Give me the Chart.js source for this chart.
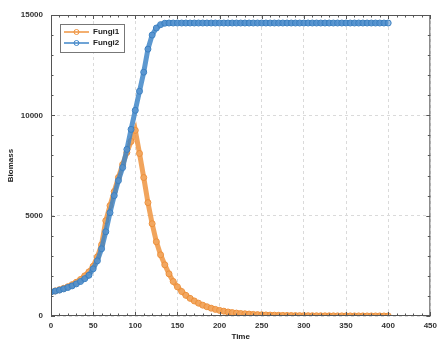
<!DOCTYPE html>
<html>
<head>
<meta charset="utf-8">
<script src="https://cdn.jsdelivr.net/npm/chart.js@4/dist/chart.umd.min.js"></script>
<style>
  body { margin: 0; background: #fff; }
  #wrap { width: 442px; height: 343px; }
</style>
</head>
<body>
<div id="wrap"><canvas id="myChart" width="442" height="343"></canvas></div>
<script>
// time steps (every 5 units)
const time = [0,5,10,15,20,25,30,35,40,45,50,55,60,65,70,75,80,85,90,95,
  100,105,110,115,120,125,130,135,140,145,150,155,160,165,170,175,180,185,190,195,
  200,205,210,215,220,225,230,235,240,245,250,255,260,265,270,275,280,285,290,295,
  300,305,310,315,320,325,330,335,340,345,350,355,360,365,370,375,380,385,390,395,400];

const fungi1 = [1200,1250,1310,1380,1460,1560,1680,1820,2000,2200,2480,2950,3550,4750,5500,6200,6900,7550,8150,8700,
  9250,8100,6900,5650,4600,3700,3050,2550,2100,1720,1450,1220,1030,880,750,640,540,460,390,330,
  280,240,200,170,145,125,110,95,80,70,60,52,45,40,35,30,27,24,21,18,
  16,14,12,11,10,9,8,7,6,6,5,5,4,4,4,3,3,3,3,2,2];

const fungi2 = [1200,1240,1290,1350,1420,1500,1600,1720,1860,2030,2350,2750,3350,4200,5150,6000,6750,7400,8300,9300,
  10250,11200,12150,13300,14000,14350,14520,14590,14600,14600,14600,14600,14600,14600,14600,14600,14600,14600,14600,14600,
  14600,14600,14600,14600,14600,14600,14600,14600,14600,14600,14600,14600,14600,14600,14600,14600,14600,14600,14600,14600,
  14600,14600,14600,14600,14600,14600,14600,14600,14600,14600,14600,14600,14600,14600,14600,14600,14600,14600,14600,14600,14600];

const seriesNames = ['Fungi1', 'Fungi2'];
const xTicks = [0, 450, 50];      // min, max, major step
const yTicks = [0, 15000, 5000];

const orange = '#ef9440';
const blue = '#3f86c8';
const fnt = '"Liberation Sans", Arial, sans-serif';

function pts(vals) { return time.map((t, i) => ({x: t, y: vals[i]})); }

// box, inward minor ticks and legend, matlab style
const framePlugin = {
  id: 'frame',
  afterDraw(chart) {
    const ctx = chart.ctx, a = chart.chartArea;
    const xs = chart.scales.x, ys = chart.scales.y;
    ctx.save();
    ctx.strokeStyle = '#555';
    ctx.lineWidth = 1;
    ctx.setLineDash([]);
    ctx.strokeRect(a.left + 0.5, a.top + 0.5, a.right - a.left - 1, a.bottom - a.top - 1);
    ctx.beginPath();
    for (let v = xTicks[0]; v <= xTicks[1]; v += 10) {
      const p = Math.round(xs.getPixelForValue(v)) + 0.5;
      const l = v % xTicks[2] === 0 ? 4 : 2.5;
      ctx.moveTo(p, a.bottom); ctx.lineTo(p, a.bottom - l);
      ctx.moveTo(p, a.top); ctx.lineTo(p, a.top + l);
    }
    for (let v = yTicks[0]; v <= yTicks[1]; v += 1000) {
      const p = Math.round(ys.getPixelForValue(v)) + 0.5;
      const l = v % yTicks[2] === 0 ? 4 : 2.5;
      ctx.moveTo(a.left, p); ctx.lineTo(a.left + l, p);
      ctx.moveTo(a.right, p); ctx.lineTo(a.right - l, p);
    }
    ctx.stroke();

    // legend
    const bx = 60, by = 24, bw = 64, bh = 28;
    ctx.fillStyle = '#fff';
    ctx.fillRect(bx, by, bw, bh);
    ctx.strokeStyle = '#777';
    ctx.strokeRect(bx + 0.5, by + 0.5, bw, bh);
    const cols = [orange, blue];
    ctx.font = 'bold 8px ' + fnt;
    ctx.textBaseline = 'middle';
    seriesNames.forEach((n, i) => {
      const yy = by + 8 + i * 11;
      ctx.strokeStyle = cols[i];
      ctx.lineWidth = 1.5;
      ctx.beginPath(); ctx.moveTo(bx + 4, yy); ctx.lineTo(bx + 29, yy); ctx.stroke();
      ctx.lineWidth = 1;
      ctx.beginPath(); ctx.arc(bx + 16.5, yy, 2.5, 0, Math.PI * 2); ctx.stroke();
      ctx.fillStyle = '#222';
      ctx.fillText(n, bx + 33, yy);
    });
    ctx.restore();
  }
};

const config = {
  type: 'line',
  data: {
    datasets: [
      {
        label: seriesNames[1],
        data: pts(fungi2),
        borderColor: 'rgba(63,134,200,0.85)',
        backgroundColor: blue,
        borderWidth: 5,
        pointRadius: 3,
        pointBorderWidth: 1,
        pointBorderColor: '#3a7fc0',
        pointBackgroundColor: 'rgba(90,150,210,0.6)',
        order: 0
      },
      {
        label: seriesNames[0],
        data: pts(fungi1),
        borderColor: 'rgba(239,148,64,0.85)',
        backgroundColor: orange,
        borderWidth: 5,
        pointRadius: 3,
        pointBorderWidth: 1,
        pointBorderColor: '#ec8f3a',
        pointBackgroundColor: 'rgba(244,170,100,0.6)',
        order: 1
      }
    ]
  },
  options: {
    responsive: false,
    animation: false,
    layout: { padding: { left: 0, top: 15, right: 6, bottom: 0 } },
    plugins: {
      legend: { display: false },
      tooltip: { enabled: false }
    },
    scales: {
      x: {
        type: 'linear',
        min: xTicks[0], max: xTicks[1],
        afterFit: (s) => { s.height = 27; },
        ticks: { stepSize: xTicks[2], padding: 5, color: '#333', callback: (v) => String(v),
          font: { family: fnt, size: 8, weight: 'bold' } },
        grid: { color: '#dadada', drawTicks: false },
        border: { display: false, dash: [3, 3] },
        title: { display: true, text: 'Time', color: '#222', padding: { top: 0, bottom: 1 },
          font: { family: fnt, size: 8, weight: 'bold' } }
      },
      y: {
        min: yTicks[0], max: yTicks[1],
        afterFit: (s) => { s.width = 51; },
        ticks: { stepSize: yTicks[2], padding: 8, color: '#333', callback: (v) => String(v),
          font: { family: fnt, size: 8, weight: 'bold' } },
        grid: { color: '#dadada', drawTicks: false },
        border: { display: false, dash: [3, 3] },
        title: { display: true, text: 'Biomass', color: '#222', padding: { top: 6, bottom: 0 },
          font: { family: fnt, size: 8, weight: 'bold' } }
      }
    }
  },
  plugins: [framePlugin]
};

var myChart = new Chart(document.getElementById('myChart'), config);
</script>
</body>
</html>
